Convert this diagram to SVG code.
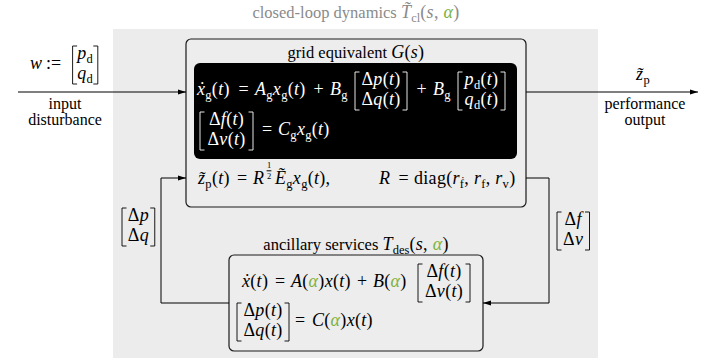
<svg xmlns="http://www.w3.org/2000/svg" width="718" height="358" viewBox="0 0 718 358">
<style>
text,tspan{font-family:"Liberation Serif","Times New Roman","DejaVu Serif",serif}
text{fill:#000}
.tx{font-size:16.5px;font-style:normal}
.tl{font-size:16px;font-style:normal}
.m{font-size:18px;font-style:italic;letter-spacing:0.3px}
.u{font-style:normal}
.uu{font-size:18px;font-style:normal}
.s{font-size:12.5px;font-style:normal}
.fr{font-size:8.5px}
.w,.w tspan{fill:#fff}
.a{fill:#7cb342}
.ti,.ti tspan{fill:#8a8a8a}
.ti tspan.a{fill:#7cb342}
.br{fill:none;stroke:#000;stroke-width:0.9}
.brw{fill:none;stroke:#fff;stroke-width:0.9}
.box{fill:#ededed;stroke:#1a1a1a;stroke-width:1.2}
.ln{fill:none;stroke:#000;stroke-width:1}
</style>
<defs>
<marker id="ah" viewBox="0 0 8 6" refX="8" refY="3" markerWidth="8" markerHeight="6" markerUnits="userSpaceOnUse" orient="auto"><path d="M0,0.5 L8,3 L0,5.5 z" fill="#000"/></marker>
</defs>
<g font-family="Liberation Serif, Times New Roman, serif">

<g id="closed-loop">
<rect x="113" y="29" width="485" height="329" fill="#ececec"/>
<text class="ti" x="356" y="18" text-anchor="middle"><tspan class="tx">closed-loop dynamics </tspan><tspan class="m">T̃</tspan><tspan class="s" dy="3.5">cl</tspan><tspan class="m u" dy="-3.5">(</tspan><tspan class="m">s</tspan><tspan class="m u">, </tspan><tspan class="m a">α</tspan><tspan class="m u">)</tspan></text>
</g>

<g id="grid-equivalent">
<rect class="box" x="186" y="39" width="340" height="168" rx="5"/>
<text x="356" y="58" text-anchor="middle"><tspan class="tx">grid equivalent </tspan><tspan class="m">G</tspan><tspan class="m u">(</tspan><tspan class="m">s</tspan><tspan class="m u">)</tspan></text>
<rect x="194" y="63" width="323" height="96" rx="6" fill="#000"/>
<g class="w">
<text class="w m" x="197" y="95.25">ẋ<tspan class="s" dy="3.5">g</tspan><tspan class="u" dy="-3.5">(</tspan>t<tspan class="u">)</tspan></text>
<text class="w uu" x="243.5" y="95.25" text-anchor="middle">=</text>
<text class="w m" x="255" y="95.25">A<tspan class="s" dy="3.5">g</tspan><tspan dy="-3.5">x</tspan><tspan class="s" dy="3.5">g</tspan><tspan class="u" dy="-3.5">(</tspan>t<tspan class="u">)</tspan></text>
<text class="w uu" x="318.5" y="95.25" text-anchor="middle">+</text>
<text class="w m" x="330" y="95.25">B<tspan class="s" dy="3.5">g</tspan></text>
<text class="w m" x="381" y="85" text-anchor="middle"><tspan class="u">Δ</tspan>p<tspan class="u">(</tspan>t<tspan class="u">)</tspan></text>
<text class="w m" x="381" y="105.3" text-anchor="middle"><tspan class="u">Δ</tspan>q<tspan class="u">(</tspan>t<tspan class="u">)</tspan></text>
<text class="w uu" x="421.5" y="95.25" text-anchor="middle">+</text>
<text class="w m" x="433" y="95.25">B<tspan class="s" dy="3.5">g</tspan></text>
<text class="w m" x="481.5" y="85" text-anchor="middle">p<tspan class="s" dy="3.5">d</tspan><tspan class="u" dy="-3.5">(</tspan>t<tspan class="u">)</tspan></text>
<text class="w m" x="481.5" y="105.3" text-anchor="middle">q<tspan class="s" dy="3.5">d</tspan><tspan class="u" dy="-3.5">(</tspan>t<tspan class="u">)</tspan></text>
<text class="w m" x="226.5" y="125" text-anchor="middle"><tspan class="u">Δ</tspan>f<tspan class="u">(</tspan>t<tspan class="u">)</tspan></text>
<text class="w m" x="226.5" y="145.3" text-anchor="middle"><tspan class="u">Δ</tspan>v<tspan class="u">(</tspan>t<tspan class="u">)</tspan></text>
<text class="w uu" x="267" y="135.25" text-anchor="middle">=</text>
<text class="w m" x="278" y="135.25">C<tspan class="s" dy="3.5">g</tspan><tspan dy="-3.5">x</tspan><tspan class="s" dy="3.5">g</tspan><tspan class="u" dy="-3.5">(</tspan>t<tspan class="u">)</tspan></text>
</g>
<path class="brw" d="M359.5,72 H355 V110 H359.5 M402.5,72 H407 V110 H402.5 M462.5,72 H458 V110 H462.5 M500.5,72 H505 V110 H500.5 M204.5,112 H200 V150 H204.5 M248.5,112 H253 V150 H248.5"/>
<text class="m" x="198" y="184">z̃<tspan class="s" dy="3.5">p</tspan><tspan class="u" dy="-3.5">(</tspan>t<tspan class="u">)</tspan></text>
<text class="uu" x="242" y="184" text-anchor="middle">=</text>
<text class="m" x="253" y="184">R</text>
<text class="fr" x="269" y="168.2" text-anchor="middle">1</text>
<text class="fr" x="269" y="178.6" text-anchor="middle">2</text>
<path class="ln" d="M266.6,170.8 H271.4" stroke-width="0.6"/>
<text class="m" x="275" y="184">Ẽ<tspan class="s" dy="3.5">g</tspan><tspan dy="-3.5">x</tspan><tspan class="s" dy="3.5">g</tspan><tspan class="u" dy="-3.5">(</tspan>t<tspan class="u">),</tspan></text>
<text class="m" x="379" y="184">R</text>
<text class="uu" x="403.5" y="184" text-anchor="middle">=</text>
<text class="m" x="414" y="184"><tspan class="u">diag(</tspan>r<tspan class="s" dy="3.5">ḟ</tspan><tspan class="u" dy="-3.5">, </tspan>r<tspan class="s" dy="3.5">f</tspan><tspan class="u" dy="-3.5">, </tspan>r<tspan class="s" dy="3.5">v</tspan><tspan class="u" dy="-3.5">)</tspan></text>
</g>

<g id="ancillary-services">
<text x="356" y="250" text-anchor="middle"><tspan class="tx">ancillary services </tspan><tspan class="m">T</tspan><tspan class="s" dy="3.5">des</tspan><tspan class="m u" dy="-3.5">(</tspan><tspan class="m">s</tspan><tspan class="m u">, </tspan><tspan class="m a">α</tspan><tspan class="m u">)</tspan></text>
<rect class="box" x="229" y="255" width="254" height="96" rx="5"/>
<text class="m" x="242" y="287.25">ẋ<tspan class="u">(</tspan>t<tspan class="u">)</tspan></text>
<text class="uu" x="280" y="287.25" text-anchor="middle">=</text>
<text class="m" x="291" y="287.25">A<tspan class="u">(</tspan><tspan class="a">α</tspan><tspan class="u">)</tspan>x<tspan class="u">(</tspan>t<tspan class="u">)</tspan></text>
<text class="uu" x="362" y="287.25" text-anchor="middle">+</text>
<text class="m" x="373" y="287.25">B<tspan class="u">(</tspan><tspan class="a">α</tspan><tspan class="u">)</tspan></text>
<text class="m" x="444" y="277" text-anchor="middle"><tspan class="u">Δ</tspan>f<tspan class="u">(</tspan>t<tspan class="u">)</tspan></text>
<text class="m" x="444" y="297.3" text-anchor="middle"><tspan class="u">Δ</tspan>v<tspan class="u">(</tspan>t<tspan class="u">)</tspan></text>
<path class="br" d="M422.5,264 H418 V302 H422.5 M465.5,264 H470 V302 H465.5"/>
<text class="m" x="263" y="316" text-anchor="middle"><tspan class="u">Δ</tspan>p<tspan class="u">(</tspan>t<tspan class="u">)</tspan></text>
<text class="m" x="263" y="336.3" text-anchor="middle"><tspan class="u">Δ</tspan>q<tspan class="u">(</tspan>t<tspan class="u">)</tspan></text>
<path class="br" d="M241.5,303 H237 V341 H241.5 M284.5,303 H289 V341 H284.5"/>
<text class="uu" x="300" y="326.25" text-anchor="middle">=</text>
<text class="m" x="312" y="326.25">C<tspan class="u">(</tspan><tspan class="a">α</tspan><tspan class="u">)</tspan>x<tspan class="u">(</tspan>t<tspan class="u">)</tspan></text>
</g>

<g id="input-disturbance">
<text class="m" x="30" y="69.25">w</text>
<text class="uu" x="46" y="69.25">:=</text>
<text class="m" x="85.2" y="59" text-anchor="middle">p<tspan class="s" dy="3.5">d</tspan></text>
<text class="m" x="85.2" y="79.3" text-anchor="middle">q<tspan class="s" dy="3.5">d</tspan></text>
<path class="br" d="M77.1,46 H72.6 V84 H77.1 M93.3,46 H97.8 V84 H93.3"/>
<text class="tl" x="65" y="109" text-anchor="middle">input</text>
<text class="tl" x="65" y="125" text-anchor="middle">disturbance</text>
</g>

<g id="performance-output">
<text class="m" x="643" y="80" text-anchor="middle">z̃<tspan class="s" dy="3.5">p</tspan></text>
<text class="tl" x="645" y="109" text-anchor="middle">performance</text>
<text class="tl" x="645" y="125" text-anchor="middle">output</text>
</g>

<g id="feedback-labels">
<text class="m" x="138.4" y="221" text-anchor="middle"><tspan class="u">Δ</tspan>p</text>
<text class="m" x="138.4" y="241.3" text-anchor="middle"><tspan class="u">Δ</tspan>q</text>
<path class="br" d="M126.5,208 H122 V246 H126.5 M150.25,208 H154.75 V246 H150.25"/>
<text class="m" x="573.2" y="225" text-anchor="middle"><tspan class="u">Δ</tspan>f</text>
<text class="m" x="573.2" y="245.3" text-anchor="middle"><tspan class="u">Δ</tspan>v</text>
<path class="br" d="M561.5,212 H557 V250 H561.5 M585,212 H589.5 V250 H585"/>
</g>

<g id="connectors">
<path class="ln" d="M18,92 H186" marker-end="url(#ah)"/>
<path class="ln" d="M526,92 H698" marker-end="url(#ah)"/>
<path class="ln" d="M229,303 H161 V178 H186" marker-end="url(#ah)"/>
<path class="ln" d="M526,178 H549 V303 H483" marker-end="url(#ah)"/>
</g>
</g>
</svg>
